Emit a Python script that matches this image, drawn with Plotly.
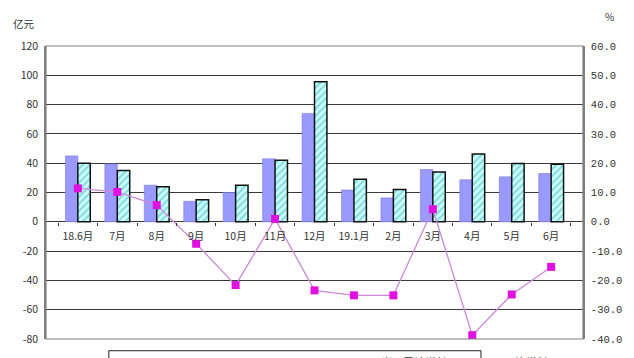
import plotly.graph_objects as go

categories = ["18.6月", "7月", "8月", "9月", "10月", "11月", "12月",
              "19.1月", "2月", "3月", "4月", "5月", "6月"]
series_a = [45, 39.5, 25, 14, 20, 43, 74, 21.7, 16.3, 35.7, 28.7, 30.7, 33]
series_b = [40, 35, 24, 15, 25, 42, 95.6, 29, 22, 34, 46.3, 39.8, 39.3]
growth = [11.4, 10.2, 5.7, -7.5, -21.6, 1.0, -23.4, -25.1, -25.1, 4.3, -38.7, -24.8, -15.4]

left_ticks = [-80, -60, -40, -20, 0, 20, 40, 60, 80, 100, 120]
right_ticks = [-40, -30, -20, -10, 0, 10, 20, 30, 40, 50, 60]

FONT = "Noto Sans CJK SC"

fig = go.Figure()
fig.add_trace(go.Bar(
    x=categories, y=series_a, name="当月",
    marker=dict(color="#9999FF", line=dict(color="#7A7AE0", width=0.6)),
))
fig.add_trace(go.Bar(
    x=categories, y=series_b, name="累计",
    marker=dict(color="#CCFFFF", line=dict(color="#111111", width=1.5),
                pattern=dict(shape="/", fgcolor="#2FB5B5", bgcolor="#CCFFFF",
                             size=5, solidity=0.4)),
))
fig.add_trace(go.Scatter(
    x=categories, y=growth, name="增幅", yaxis="y2", mode="lines+markers",
    line=dict(color="#CC88D8", width=1.3),
    marker=dict(symbol="square", size=8, color="#E010E0"),
))

fig.update_layout(
    width=634, height=358,
    margin=dict(l=46, r=51, t=46, b=17),
    paper_bgcolor="white", plot_bgcolor="white",
    showlegend=False,
    barmode="group", bargap=0.37, bargroupgap=0.0,
    font=dict(family=FONT, size=10, color="#333333"),
    xaxis=dict(
        type="category", anchor="free", position=0.4,
        showline=False, showgrid=False, zeroline=False,
        ticks="outside", tickson="boundaries", ticklen=3, tickcolor="#333333",
        ticklabelstandoff=7, tickangle=0,
        tickfont=dict(size=10.5, family=FONT, color="#333333"),
    ),
    yaxis=dict(
        range=[-80, 120], tickvals=left_ticks, ticktext=[str(v) for v in left_ticks],
        showgrid=True, gridcolor="#3a3a3a", gridwidth=1,
        zeroline=False, showline=True, linecolor="#808080", linewidth=1.5,
        ticks="", ticklabelstandoff=4,
        tickfont=dict(size=10.5, family=FONT, color="#333333"),
    ),
    yaxis2=dict(
        range=[-40, 60], tickvals=right_ticks, ticktext=[f"{v:.1f}" for v in right_ticks],
        overlaying="y", side="right", showgrid=False, zeroline=False,
        showline=True, linecolor="#808080", linewidth=1.5, ticks="",
        ticklabelstandoff=4,
        tickfont=dict(size=10.5, family="Liberation Mono", color="#333333"),
    ),
    annotations=[
        dict(text="亿元", xref="paper", yref="paper", x=-0.016, y=1.045,
             xanchor="right", yanchor="bottom", showarrow=False,
             font=dict(size=10.5, family=FONT, color="#333333")),
        dict(text="%", xref="paper", yref="paper", x=1.038, y=1.068,
             xanchor="left", yanchor="bottom", showarrow=False,
             font=dict(size=10, family=FONT, color="#333333")),
        dict(text="当月累计增长", xref="paper", yref="paper", x=0.62, y=-0.045,
             xanchor="left", yanchor="top", showarrow=False,
             font=dict(size=11, family=FONT, color="#333333")),
        dict(text="同比增长(%)", xref="paper", yref="paper", x=0.85, y=-0.045,
             xanchor="left", yanchor="top", showarrow=False,
             font=dict(size=11, family=FONT, color="#333333")),
    ],
    shapes=[
        dict(type="rect", xref="paper", yref="paper", x0=0, x1=1, y0=0, y1=1,
             line=dict(color="#808080", width=1.2)),
        dict(type="rect", xref="paper", yref="paper", x0=0.117, x1=0.81,
             y0=-0.04, y1=-0.12, line=dict(color="#222222", width=1)),
    ],
)

fig.write_html("out.html", config={"displayModeBar": False},
               post_script="document.body.style.margin='0';document.body.style.overflow='hidden';")
